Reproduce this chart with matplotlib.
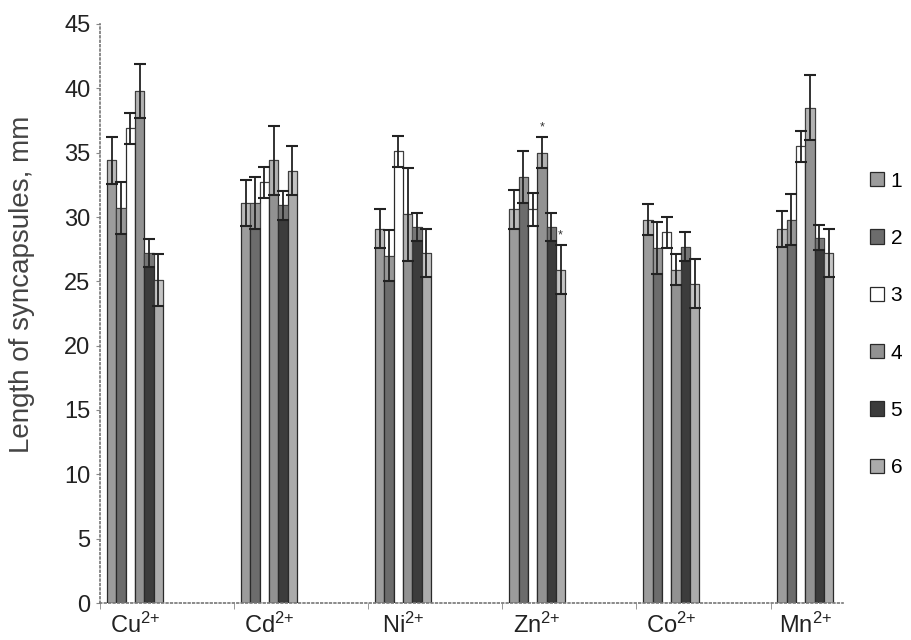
import matplotlib
matplotlib.use("Agg")
import matplotlib.pyplot as plt
import numpy as np

plt.rcParams['font.family'] = ['Liberation Sans', 'DejaVu Sans']
plt.rcParams['mathtext.fontset'] = 'custom'
plt.rcParams['mathtext.rm'] = 'Liberation Sans'
plt.rcParams['mathtext.it'] = 'Liberation Sans'

# ---- data ----
categories = ["Cu", "Cd", "Ni", "Zn", "Co", "Mn"]
series_names = ["1", "2", "3", "4", "5", "6"]

means_s1 = [34.4, 31.1, 29.1, 30.6, 29.8, 29.1]
means_s2 = [30.7, 31.1, 27.0, 33.1, 27.6, 29.8]
means_s3 = [36.9, 32.7, 35.1, 30.6, 28.8, 35.5]
means_s4 = [39.8, 34.4, 30.2, 35.0, 25.9, 38.5]
means_s5 = [27.2, 30.9, 29.2, 29.2, 27.7, 28.4]
means_s6 = [25.1, 33.6, 27.2, 25.9, 24.8, 27.2]

err_s1 = [1.8, 1.8, 1.5, 1.5, 1.2, 1.4]
err_s2 = [2.0, 2.0, 2.0, 2.0, 2.0, 2.0]
err_s3 = [1.2, 1.2, 1.2, 1.3, 1.2, 1.2]
err_s4 = [2.1, 2.7, 3.6, 1.2, 1.2, 2.5]
err_s5 = [1.1, 1.1, 1.1, 1.1, 1.1, 1.0]
err_s6 = [2.0, 1.9, 1.9, 1.9, 1.9, 1.9]

# significance markers: (category index, series index)
significant = [(3, 3), (3, 5)]

means = [means_s1, means_s2, means_s3, means_s4, means_s5, means_s6]
errs = [err_s1, err_s2, err_s3, err_s4, err_s5, err_s6]

# ---- style ----
colors = ["#9c9c9c", "#6c6c6c", "#ffffff", "#929292", "#3c3c3c", "#ababab"]
bar_w = 0.0695

fig = plt.figure(figsize=(9.11, 6.40), dpi=100)
ax = fig.add_axes([100/911, 37/640, 743/911, 579/640])

x = np.arange(len(categories))
handles = []
for k in range(6):
    xs = x + (k - 2.5) * bar_w
    b = ax.bar(xs, means[k], width=bar_w, color=colors[k], edgecolor="#2a2a2a",
               linewidth=0.9, zorder=2, label=series_names[k])
    handles.append(b)
    # lighter band between mean-err and mean
    for xi, m, e in zip(xs, means[k], errs[k]):
        ax.add_patch(plt.Rectangle((xi - bar_w/2, m - e), bar_w, e,
                                   facecolor="white", alpha=0.3, edgecolor="#2a2a2a",
                                   linewidth=0.7, zorder=3))
    ax.errorbar(xs, means[k], yerr=errs[k], fmt="none", ecolor="#222222",
                elinewidth=1.3, capsize=4, capthick=1.5, zorder=4)

for ci, si in significant:
    xi = x[ci] + (si - 2.5) * bar_w
    ax.text(xi, means[si][ci] + errs[si][ci] + 0.3, "*", ha="center", va="bottom",
            fontsize=9, color="#333333")

ax.set_xlim(-0.26, 5.28)
ax.set_ylim(0, 45)
ax.set_yticks(np.arange(0, 46, 5))
ax.tick_params(axis="y", labelsize=17, length=3, color="#888888", pad=4,
               labelcolor="#222222")

ax.set_xticks(x)
ax.set_xticklabels([r"%s$^{\mathregular{2{+}}}$" % c for c in categories], fontsize=17,
                   color="#222222")
ax.tick_params(axis="x", length=0, pad=7)
ax.set_xticks(x - 0.26, minor=True)
ax.tick_params(axis="x", which="minor", length=4, color="#888888")

for s in ["top", "right"]:
    ax.spines[s].set_visible(False)
for s in ["left", "bottom"]:
    ax.spines[s].set_linestyle(":")
    ax.spines[s].set_color("#777777")
    ax.spines[s].set_linewidth(1.2)

fig.text(0.024, 0.555, "Length of syncapsules, mm", rotation=90, ha="center",
         va="center", fontsize=20, color="#444444")

leg = fig.legend(handles=handles, labels=series_names, loc="upper left",
                 bbox_to_anchor=(0.946, 0.745), frameon=False, fontsize=15,
                 handlelength=0.68, handleheight=0.68, handletextpad=0.3,
                 labelspacing=1.84, borderaxespad=0)

fig.savefig("out.png", dpi=100, facecolor="white")
